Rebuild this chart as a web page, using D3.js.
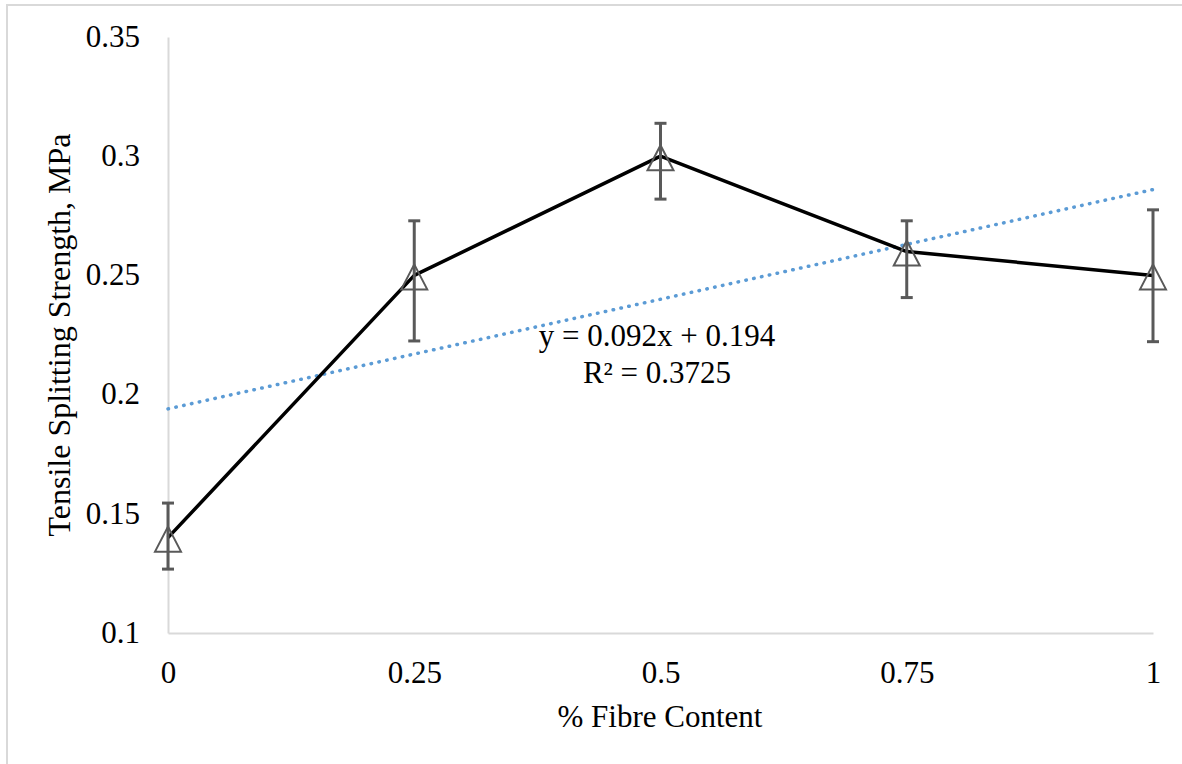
<!DOCTYPE html>
<html>
<head>
<meta charset="utf-8">
<script src="https://cdn.jsdelivr.net/npm/d3@7"></script>
<style>
  body { margin: 0; background: #fff; }
  svg text { font-family: "Liberation Serif", "Times New Roman", serif; fill: #000; }
</style>
</head>
<body>
<div class="chart"></div>
<script>
// data
var fibre = [0, 0.25, 0.5, 0.75, 1];
var strength = [0.14, 0.25, 0.30, 0.26, 0.25];
var errHigh = [0.1545, 0.2729, 0.3138, 0.2729, 0.2775];
var errLow = [0.1268, 0.2225, 0.2820, 0.2407, 0.2222];
var xTicks = [0, 0.25, 0.5, 0.75, 1];
var xTickLabels = ["0", "0.25", "0.5", "0.75", "1"];
var yTicks = [0.1, 0.15, 0.2, 0.25, 0.3, 0.35];
var yTickLabels = ["0.1", "0.15", "0.2", "0.25", "0.3", "0.35"];
var trendSlope = 0.092, trendIntercept = 0.194;

var W = 1182, H = 764;
var svg = d3.select(".chart").append("svg")
    .attr("width", W).attr("height", H);

// outer chart border (runs off the right/bottom edge)
svg.append("rect")
    .attr("x", 7).attr("y", 5)
    .attr("width", W + 20).attr("height", H + 20)
    .attr("fill", "none").attr("stroke", "#d9d9d9").attr("stroke-width", 2);

var x = d3.scaleLinear().domain([0, 1]).range([168, 1153]);
var y = d3.scaleLinear().domain([0.1, 0.35]).range([633, 37]);

// axes
var xAxis = svg.append("g")
    .attr("transform", "translate(0," + y(0.1) + ")")
    .call(d3.axisBottom(x).tickValues(xTicks)
          .tickFormat(function(d, i) { return xTickLabels[i]; })
          .tickSize(0).tickPadding(28));
var yAxis = svg.append("g")
    .attr("transform", "translate(" + x(0) + ",0)")
    .call(d3.axisLeft(y).tickValues(yTicks)
          .tickFormat(function(d, i) { return yTickLabels[i]; })
          .tickSize(0).tickPadding(28));
[xAxis, yAxis].forEach(function(a) {
  a.select(".domain").attr("stroke", "#d9d9d9").attr("stroke-width", 2);
  a.selectAll("text").attr("font-size", "31px")
    .attr("font-family", "Liberation Serif").attr("fill", "#000");
});
yAxis.selectAll("text").attr("dy", "0.3em");

// linear trendline
svg.append("line")
    .attr("x1", x(0)).attr("y1", y(trendIntercept))
    .attr("x2", x(1)).attr("y2", y(trendIntercept + trendSlope))
    .attr("stroke", "#5b9bd5").attr("stroke-width", 3.5)
    .attr("stroke-linecap", "round")
    .attr("stroke-dasharray", "0.5,7.5");

// data line
var pts = fibre.map(function(f, i) { return [f, strength[i]]; });
svg.append("path")
    .datum(pts)
    .attr("fill", "none").attr("stroke", "#000").attr("stroke-width", 3.5)
    .attr("stroke-linejoin", "round")
    .attr("d", d3.line().x(function(d) { return x(d[0]); }).y(function(d) { return y(d[1]); }));

// triangle markers
svg.selectAll("path.marker")
    .data(pts).enter().append("path")
    .attr("class", "marker")
    .attr("transform", function(d) { return "translate(" + x(d[0]) + "," + (y(d[1]) + 2) + ")"; })
    .attr("d", "M0,-13 L13,12 L-13,12 Z")
    .attr("fill", "none").attr("stroke", "#595959").attr("stroke-width", 2);

// error bars
var eb = svg.selectAll("g.err").data(fibre).enter().append("g").attr("class", "err")
    .attr("stroke", "#595959").attr("stroke-width", 3);
eb.append("line")
    .attr("x1", function(d) { return x(d); }).attr("x2", function(d) { return x(d); })
    .attr("y1", function(d, i) { return y(errHigh[i]); })
    .attr("y2", function(d, i) { return y(errLow[i]); });
eb.append("line")
    .attr("x1", function(d) { return x(d) - 6; }).attr("x2", function(d) { return x(d) + 6; })
    .attr("y1", function(d, i) { return y(errHigh[i]); })
    .attr("y2", function(d, i) { return y(errHigh[i]); });
eb.append("line")
    .attr("x1", function(d) { return x(d) - 6; }).attr("x2", function(d) { return x(d) + 6; })
    .attr("y1", function(d, i) { return y(errLow[i]); })
    .attr("y2", function(d, i) { return y(errLow[i]); });

// trendline label
svg.append("text")
    .attr("x", 657).attr("y", 346)
    .attr("text-anchor", "middle").attr("font-size", "31px")
    .text("y = 0.092x + 0.194");
svg.append("text")
    .attr("x", 657).attr("y", 383)
    .attr("text-anchor", "middle").attr("font-size", "31px")
    .text("R² = 0.3725");

// axis titles
svg.append("text")
    .attr("x", 660).attr("y", 727)
    .attr("text-anchor", "middle").attr("font-size", "31px")
    .text("% Fibre Content");
svg.append("text")
    .attr("transform", "translate(70,335) rotate(-90)")
    .attr("text-anchor", "middle").attr("font-size", "32px")
    .text("Tensile Splitting Strength, MPa");
</script>
</body>
</html>
